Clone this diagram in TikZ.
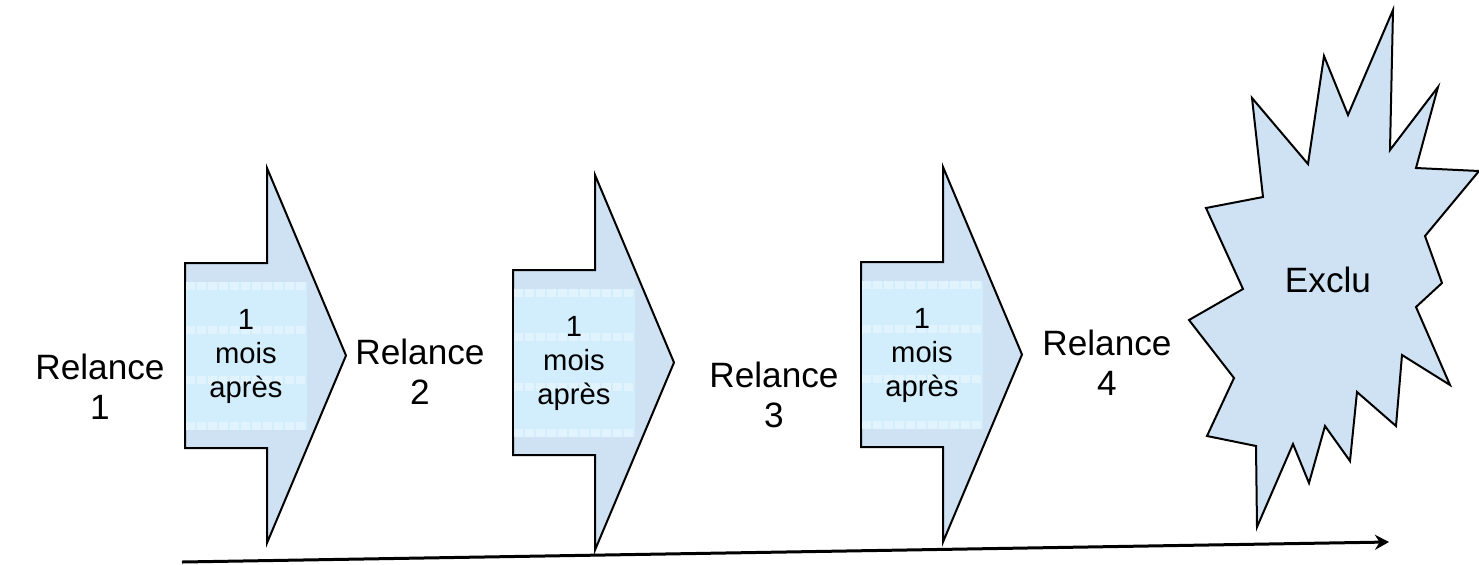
\documentclass[tikz,border=0pt]{standalone}
\usepackage{fontspec}
\setmainfont{Liberation Sans}
\usetikzlibrary{arrows.meta}

\definecolor{arrowblue}{RGB}{207,226,243}
\definecolor{paneblue}{RGB}{210,237,252}

\begin{document}
\begin{tikzpicture}
	 [x=0.5pt,y=-0.5pt,every node/.style={align=center,inner sep=0pt},
	  relance/.style={font=\fontsize{17.6}{20}\selectfont},
	  delai/.style={font=\fontsize{14.6}{17}\selectfont},
	  flech/.style={draw=black,line width=1pt,fill=arrowblue},
	  vitre/.style={fill=paneblue},
	  bande/.style={draw=white,opacity=.35,line width=4pt,dash pattern=on 4.5pt off 1pt}]
  \useasboundingbox (0,0) rectangle (1479,564);

  % the three block arrows
  \foreach \n/\x/\y in {a/185/168,b/513/175,c/861/167}{
    \draw[flech] (\x,\y+95) -- (\x+82,\y+95) -- (\x+82,\y) -- (\x+161,\y+187.5)
      -- (\x+82,\y+375) -- (\x+82,\y+280) -- (\x,\y+280) -- cycle;
    \fill[vitre] (\x+1,\y+114) rectangle (\x+122,\y+262);
    \foreach \b in {118,162,212,258}
      \draw[bande] (\x+1,\y+\b) -- (\x+122,\y+\b);
    \node[delai] (\n) at (\x+61,\y+188) {1\\mois\\après};
  }

  \node[relance] (r1) at (100,387) {Relance\\1};
    \node[relance] (r2) at (420,372) {Relance\\2};
    \node[relance] (r3) at (774,395) {Relance\\3};
    \node[relance] (r4) at (1107,363) {Relance\\4};

  % starburst
  \draw[flech] (1393,10) -- (1390,150) -- (1438,87) -- (1416,168) -- (1479,171)
    -- (1425,236) -- (1442,283) -- (1416,307) -- (1450,385) -- (1402,355)
    -- (1396,426) -- (1357,392) -- (1350,461) -- (1325,426) -- (1309,483)
    -- (1293,444) -- (1257,527) -- (1256,446) -- (1207,436) -- (1234,378)
    -- (1189,320) -- (1243,289) -- (1206,208) -- (1263,197) -- (1252,98)
    -- (1308,164) -- (1324,56) -- (1348,115) -- cycle;
  \node[relance] (excl) at (1328,280) {Exclu};

  % time line
  \coordinate (t0) at (182,562);
    \coordinate (t1) at (1389,542);
    \draw[line width=1.5pt,-{Stealth[length=7pt,width=7.5pt]}] (t0) -- (t1);

\end{tikzpicture}
\end{document}
